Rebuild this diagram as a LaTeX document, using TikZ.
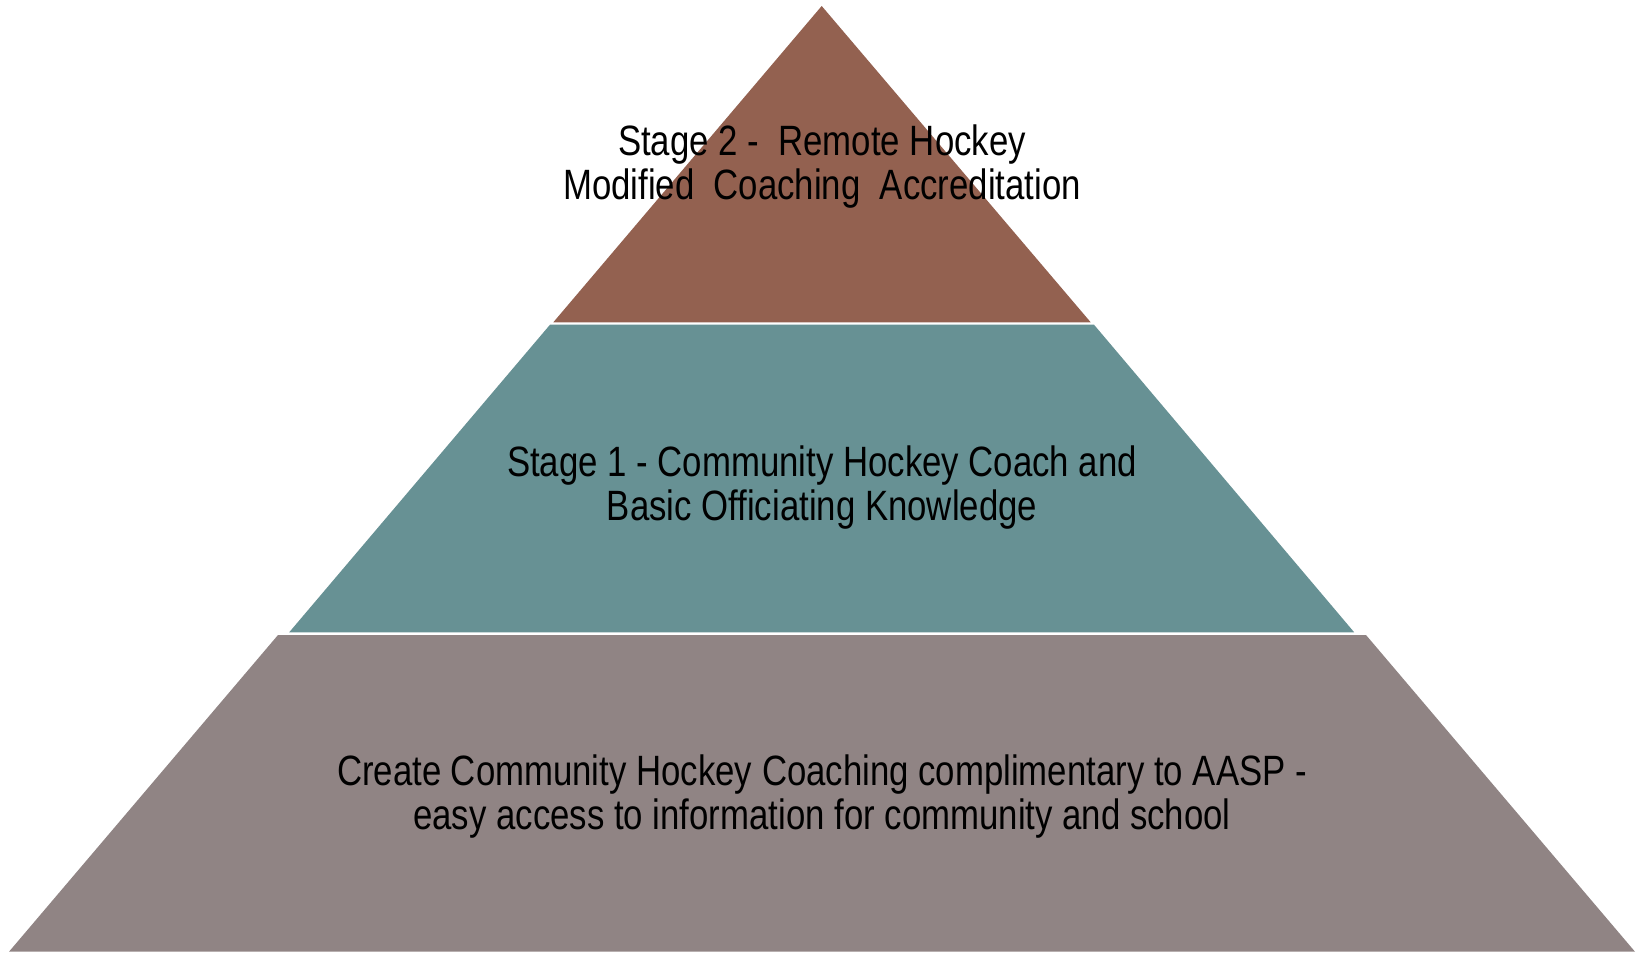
\documentclass[tikz,border=0pt]{standalone}
\usepackage{fontspec}
\setmainfont{Liberation Sans}[FakeStretch=0.82]
\definecolor{tierA}{RGB}{147,97,80}
\definecolor{tierB}{RGB}{103,145,148}
\definecolor{tierC}{RGB}{144,132,132}
\begin{document}
\begin{tikzpicture}[x=0.5pt,y=-0.5pt,
  lbl/.style={align=center,inner sep=0pt,text=black,font=\fontsize{21.2}{22}\selectfont}]
\useasboundingbox (0,0) rectangle (1643,953);
\fill[tierA] (821.7,6) -- (1090.7,322.3) -- (553.3,322.3) -- cycle;
\fill[tierB] (550,324.7) -- (1094,324.7) -- (1354.2,632.3) -- (289.2,632.3) -- cycle;
\fill[tierC] (278,635) -- (1366,635) -- (1635,951.7) -- (9,951.7) -- cycle;
\node[lbl] (t2) at (822,167) {Stage 2 - \ Remote Hockey\\Modified \ Coaching \ Accreditation};
\node[lbl] (t1) at (822,487.5) {Stage 1 - Community Hockey Coach and\\Basic Officiating Knowledge};
\node[lbl] (t0) at (822,796.5) {Create Community Hockey Coaching complimentary to AASP -\\easy access to information for community and school};
\end{tikzpicture}
\end{document}
